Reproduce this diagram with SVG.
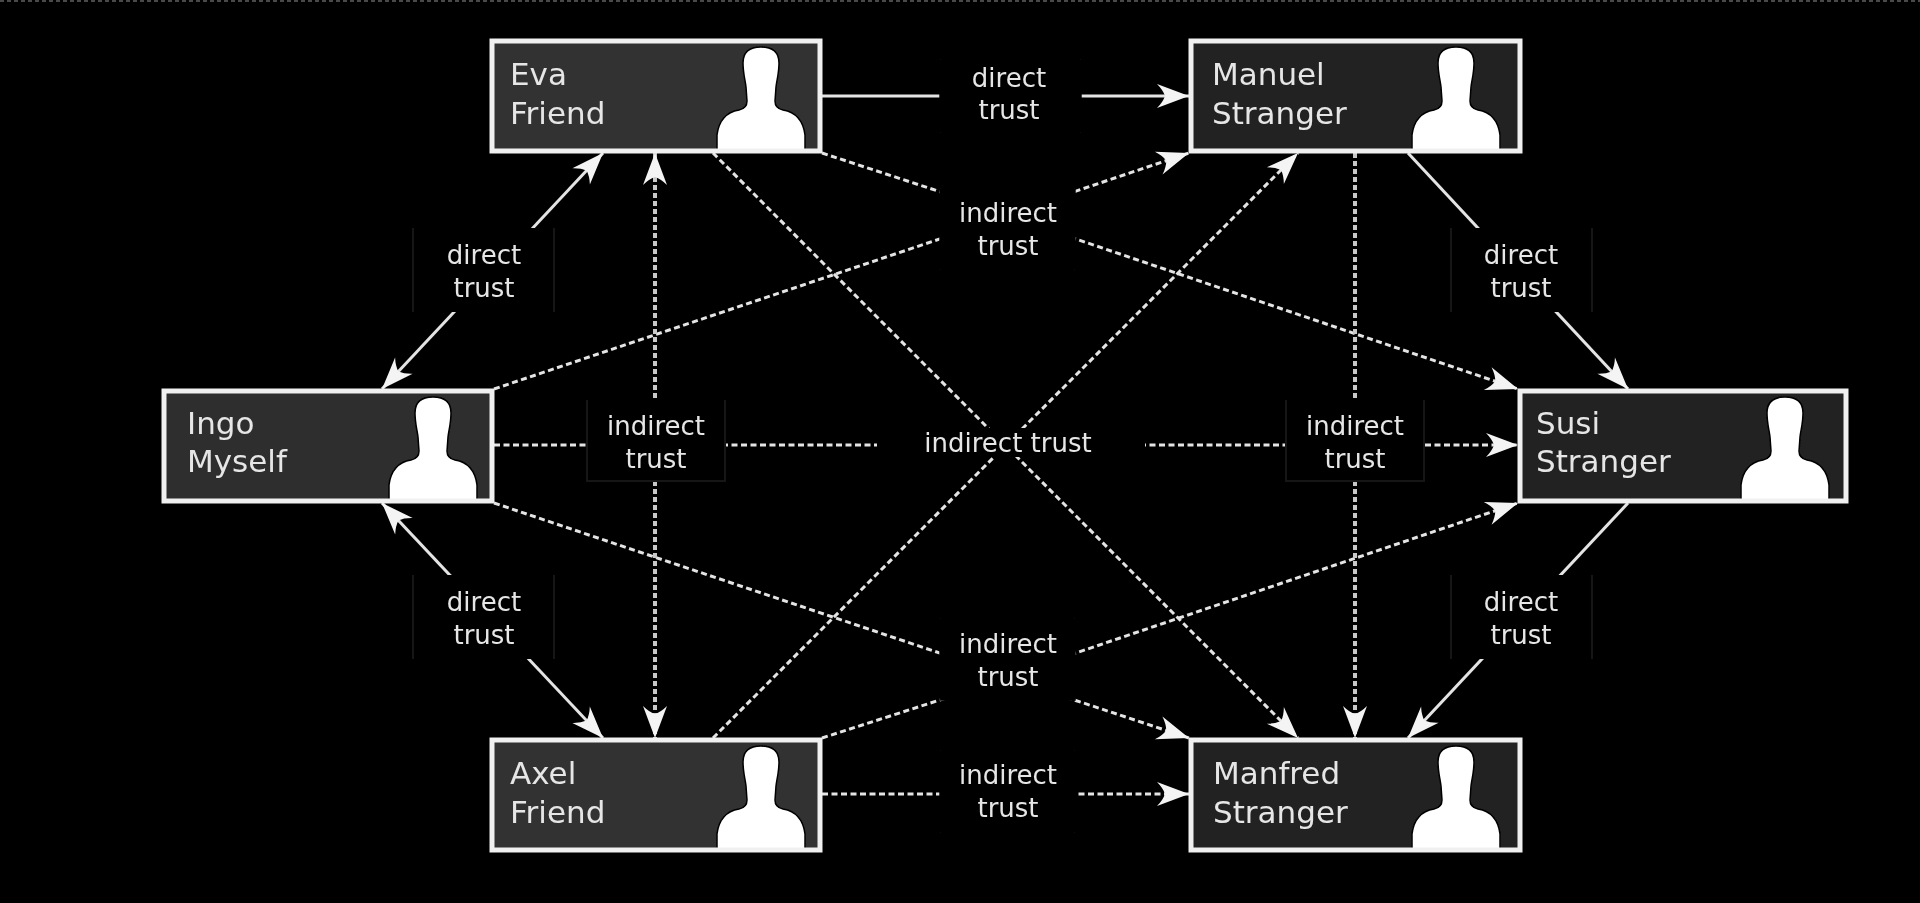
<svg xmlns="http://www.w3.org/2000/svg" width="1920" height="903" viewBox="0 0 1920 903">
<style>
.o{fill:none;stroke:#f0f0f0;stroke-width:5}
.f{fill:#333}.m{fill:#2d2d2d}.s{fill:#222}
.name{font:31px "DejaVu Sans",sans-serif;fill:#e6e6e6}
.lab{font:26px "DejaVu Sans",sans-serif;fill:#e6e6e6;text-anchor:middle}
.bg{fill:#000;stroke:#090909;stroke-width:1.5}
.side{fill:none;stroke:#141414;stroke-width:2}
.c{fill:none;stroke:#e4e4e4;stroke-width:3}
.da{stroke-dasharray:6 3.5}
.do{stroke:#c8c8c8;stroke-width:4;stroke-dasharray:5 3}
.sil{fill:#fff;stroke:#000;stroke-width:1.5}
</style>
<defs>
<marker id="a" markerUnits="userSpaceOnUse" markerWidth="40" markerHeight="30" refX="32" refY="12" orient="auto-start-reverse" overflow="visible"><path d="M32 12 L0 0 Q6 6 8 12 Q6 18 0 24Z" fill="#f4f4f4"/></marker>
<path id="p" class="sil" d="M0 112V96C2 80 10 73 22 71C27 70 30 68 30 62L29 48C28 40 26 34 26 24C26 13 33 8 44 8C55 8 62 13 62 24C62 34 60 40 59 48L58 62C58 68 61 70 66 71C78 73 86 80 88 96V112Z"/>
<filter id="soft" x="0" y="0" width="100%" height="100%" filterUnits="userSpaceOnUse"><feGaussianBlur stdDeviation="0.55"/></filter>
</defs>
<rect width="1920" height="903" fill="#000"/>
<g filter="url(#soft)">
<line x1="0" y1="1" x2="1920" y2="1" stroke="#4a4a4a" stroke-width="2" stroke-dasharray="4 3"/>
<g id="connectors">
<path class="c" d="M822 96H1189" marker-end="url(#a)"/>
<path class="c" d="M382 389L603 153" marker-start="url(#a)" marker-end="url(#a)"/>
<path class="c" d="M382 503L603 738" marker-start="url(#a)" marker-end="url(#a)"/>
<path class="c" d="M1408 153L1628 389" marker-end="url(#a)"/>
<path class="c" d="M1628 503L1408 738" marker-end="url(#a)"/>
<path class="c da" d="M822 153L1008 214L1189 153" marker-end="url(#a)"/>
<path class="c da" d="M494 389L1008 216L1518 389" marker-end="url(#a)"/>
<path class="c da" d="M494 503L1008 676L1518 503" marker-end="url(#a)"/>
<path class="c da" d="M822 738L1008 678L1189 738" marker-end="url(#a)"/>
<path class="c da" d="M713 153L1298 738" marker-end="url(#a)"/>
<path class="c da" d="M713 738L1298 153" marker-end="url(#a)"/>
<path class="c do" d="M655 153V738" marker-start="url(#a)" marker-end="url(#a)"/>
<path class="c do" d="M1355 153V738" marker-end="url(#a)"/>
<path class="c da" d="M494 445H1518" marker-end="url(#a)"/>
<path class="c da" d="M822 794H1189" marker-end="url(#a)"/>
</g>
<g id="labels">
<g><rect class="bg" x="940" y="59" width="141" height="74"/><text class="lab" x="1009" y="87">direct</text><text class="lab" x="1009" y="119">trust</text></g>
<g><rect x="413" y="228" width="141" height="84"/><path class="side" d="M413 228v84M554 228v84"/><text class="lab" x="484" y="264">direct</text><text class="lab" x="484" y="297">trust</text></g>
<g><rect x="1451" y="228" width="141" height="84"/><path class="side" d="M1451 228v84M1592 228v84"/><text class="lab" x="1521" y="264">direct</text><text class="lab" x="1521" y="297">trust</text></g>
<g><rect x="413" y="575" width="141" height="84"/><path class="side" d="M413 575v84M554 575v84"/><text class="lab" x="484" y="611">direct</text><text class="lab" x="484" y="644">trust</text></g>
<g><rect x="1451" y="575" width="141" height="84"/><path class="side" d="M1451 575v84M1592 575v84"/><text class="lab" x="1521" y="611">direct</text><text class="lab" x="1521" y="644">trust</text></g>
<g><rect class="bg" x="940" y="188" width="135" height="82"/><text class="lab" x="1008" y="222">indirect</text><text class="lab" x="1008" y="255">trust</text></g>
<g><rect class="bg" x="940" y="618" width="135" height="82"/><text class="lab" x="1008" y="653">indirect</text><text class="lab" x="1008" y="686">trust</text></g>
<g><rect class="bg" x="940" y="750" width="135" height="83"/><text class="lab" x="1008" y="784">indirect</text><text class="lab" x="1008" y="817">trust</text></g>
<g><rect x="587" y="400" width="138" height="81"/><path class="side" d="M587 400v81h138v-81"/><text class="lab" x="656" y="435">indirect</text><text class="lab" x="656" y="468">trust</text></g>
<g><rect x="1286" y="400" width="138" height="81"/><path class="side" d="M1286 400v81h138v-81"/><text class="lab" x="1355" y="435">indirect</text><text class="lab" x="1355" y="468">trust</text></g>
<g><rect x="877" y="428" width="268" height="29"/><text class="lab" x="1008" y="452">indirect trust</text></g>
</g>
<g id="eva"><rect class="f" x="492" y="41" width="328" height="110"/><use href="#p" x="717" y="39"/><rect class="o" x="492" y="41" width="328" height="110"/><text class="name" x="510" y="85">Eva</text><text class="name" x="510" y="124">Friend</text></g>
<g id="manuel"><rect class="s" x="1191" y="41" width="329" height="110"/><use href="#p" x="1412" y="39"/><rect class="o" x="1191" y="41" width="329" height="110"/><text class="name" x="1212" y="85">Manuel</text><text class="name" x="1212" y="124">Stranger</text></g>
<g id="ingo"><rect class="m" x="164" y="391" width="328" height="110"/><use href="#p" x="389" y="389"/><rect class="o" x="164" y="391" width="328" height="110"/><text class="name" x="187" y="434">Ingo</text><text class="name" x="187" y="472">Myself</text></g>
<g id="susi"><rect class="s" x="1520" y="391" width="326" height="110"/><use href="#p" x="1741" y="389"/><rect class="o" x="1520" y="391" width="326" height="110"/><text class="name" x="1536" y="434">Susi</text><text class="name" x="1536" y="472">Stranger</text></g>
<g id="axel"><rect class="f" x="492" y="740" width="328" height="110"/><use href="#p" x="717" y="738"/><rect class="o" x="492" y="740" width="328" height="110"/><text class="name" x="510" y="784">Axel</text><text class="name" x="510" y="823">Friend</text></g>
<g id="manfred"><rect class="s" x="1191" y="740" width="329" height="110"/><use href="#p" x="1412" y="738"/><rect class="o" x="1191" y="740" width="329" height="110"/><text class="name" x="1213" y="784">Manfred</text><text class="name" x="1213" y="823">Stranger</text></g>
</g>
</svg>
